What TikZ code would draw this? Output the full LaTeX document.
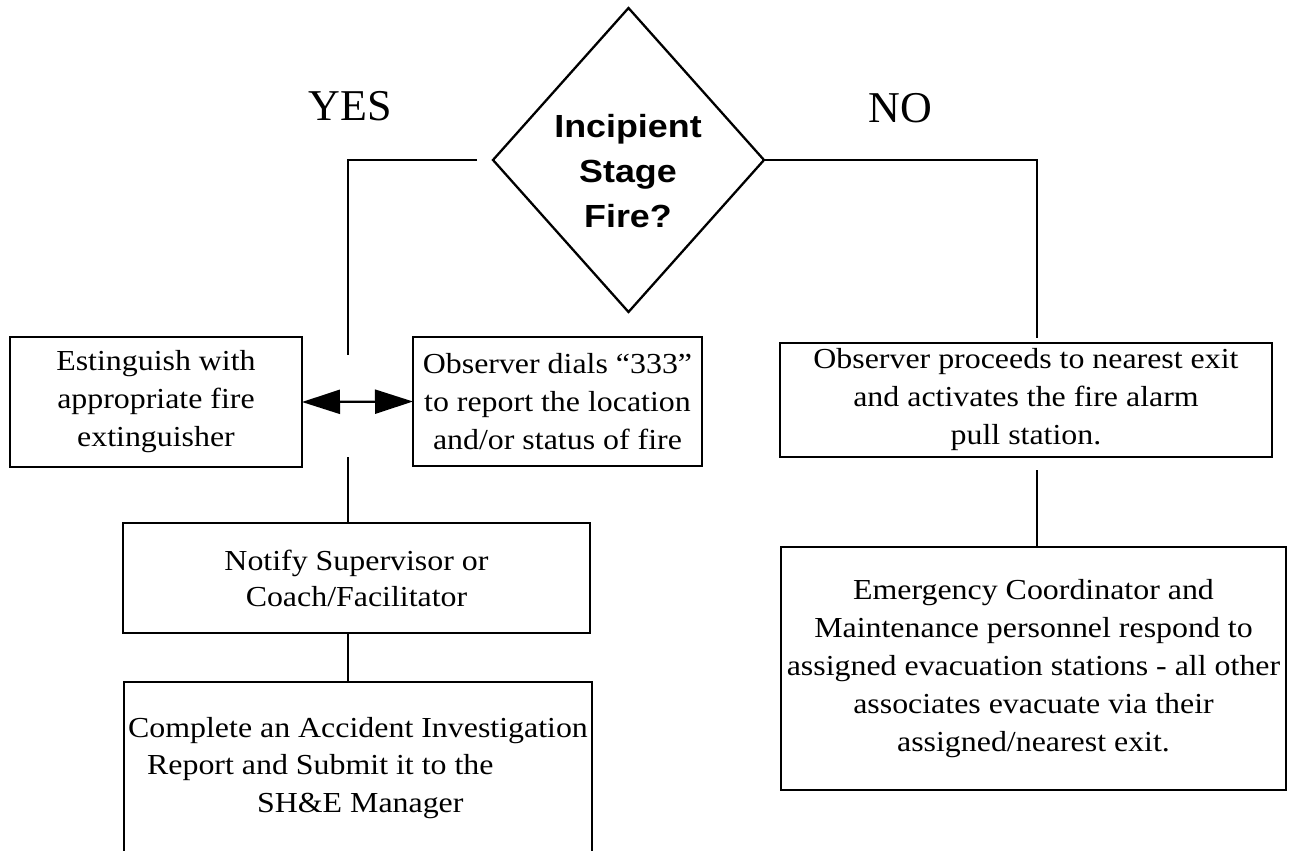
\documentclass[tikz,border=0pt]{standalone}
\usepackage{fontspec}
\setmainfont{Liberation Serif}[FakeStretch=1.1]
\newfontfamily\diafont{Liberation Sans}[FakeStretch=1.12]
\newfontfamily\labfont{Liberation Serif}
\usetikzlibrary{shapes.geometric,arrows.meta}
\begin{document}
\begin{tikzpicture}[x=1pt,y=-1pt,
  line width=2.3pt, line join=miter,
  box/.style={draw, rectangle, inner sep=2pt, outer sep=0pt, align=center,
    font=\fontsize{29}{38}\selectfont},
  lab/.style={font=\labfont\fontsize{44}{44}\selectfont, inner sep=0pt, anchor=base},
  dbl/.style={{Triangle[length=38pt,width=24pt]}-{Triangle[length=38pt,width=24pt]}}
]
\useasboundingbox (0,0) rectangle (1299,851);

% decision
\node[diamond, draw, minimum width=271pt, minimum height=304pt, inner sep=0pt, outer sep=0pt] (dec) at (628.5,160) {};
\node[font=\diafont\bfseries\fontsize{32}{45}\selectfont, align=center, inner sep=0pt] (dectext) at (628,171) {Incipient\\Stage\\Fire?};

\node[lab] (yes) at (350,120) {YES};
\node[lab] (no) at (900,122) {NO};

% boxes
\node[box, minimum width=292pt, minimum height=130pt] (est) at (156,402)
  {Estinguish with\\appropriate fire\\extinguisher};
\node[box, minimum width=289pt, minimum height=129pt] (obs) at (557.5,401.5)
  {Observer dials “333”\\to report the location\\and/or status of fire};
\node[box, minimum width=492pt, minimum height=114pt] (pull) at (1026,400)
  {Observer proceeds to nearest exit\\and activates the fire alarm\\pull station.};
\node[box, minimum width=467pt, minimum height=110pt, font=\fontsize{29}{36}\selectfont] (notify) at (356.5,578)
  {Notify Supervisor or\\Coach/Facilitator};
\node[rectangle, inner sep=0pt, outer sep=0pt, minimum width=468pt, minimum height=172pt, align=left,
  font=\fontsize{29}{37.5}\selectfont] (complete) at (358,768)
  {Complete an Accident Investigation\\
   \hspace*{19pt}Report and Submit it to the\\
   \hspace*{129pt}SH\&E Manager};
\draw (complete.south west) -- (complete.north west) -- (complete.north east) -- (complete.south east);
\node[box, minimum width=505pt, minimum height=243pt] (emerg) at (1033.5,668.5)
  {Emergency Coordinator and\\Maintenance personnel respond to\\assigned evacuation stations - all other\\associates evacuate via their\\assigned/nearest exit.};

% connectors
\coordinate (yesend) at (348,355);
\coordinate (yesres) at (348,457);
\coordinate (noend) at (1037,338);
\coordinate (nores) at (1037,470);
\draw ([xshift=-16pt]dec.west) -| (yesend);
\draw (dec.east) -| (noend);
\draw[dbl] (est.east) -- (obs.west);
\draw (yesres) -- (yesres |- notify.north);
\draw (notify.south -| yesres) -- (complete.north -| yesres);
\draw (nores) -- (nores |- emerg.north);
\end{tikzpicture}
\end{document}
